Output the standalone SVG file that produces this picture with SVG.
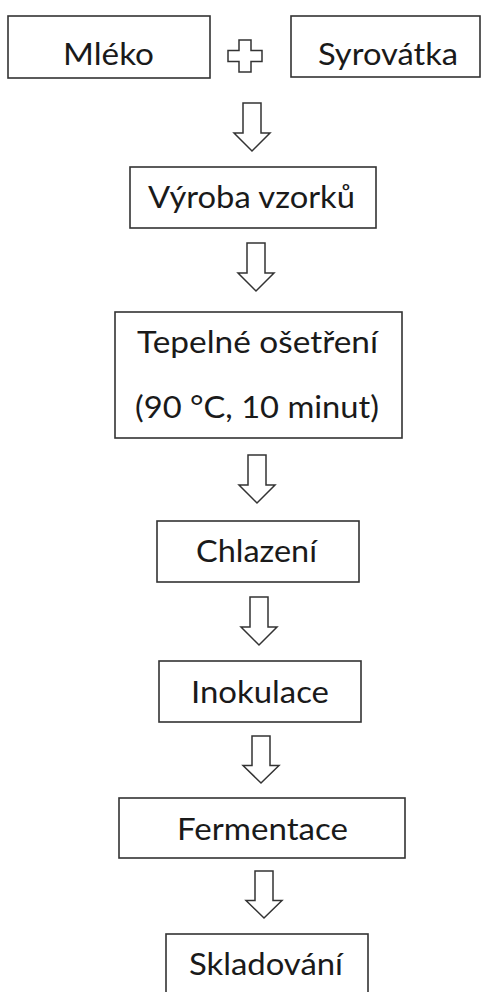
<svg xmlns="http://www.w3.org/2000/svg" width="484" height="992" viewBox="0 0 484 992">
  <style>
    .box { fill: #ffffff; stroke: #333333; stroke-width: 1.6; }
    .lbl { font-family: "Lato", "Carlito", "Open Sans", sans-serif; font-size: 31px; fill: #1a1a1a; text-anchor: middle; }
    .arr { fill: #ffffff; stroke: #333333; stroke-width: 1.5; stroke-linejoin: miter; }
  </style>
  <defs>
    <path id="blockArrow" d="M-9,0 H9 V30 H18 L0,48 L-18,30 H-9 Z"/>
  </defs>
  <rect width="484" height="992" fill="#ffffff"/>

  <g id="n-mleko">
    <rect class="box" x="8" y="16" width="202" height="62"/>
    <text class="lbl" x="108.5" y="65" textLength="91" lengthAdjust="spacingAndGlyphs">Mléko</text>
  </g>
  <g id="n-plus">
    <path class="arr" transform="translate(245,56)" d="M-6,-16 H6 V-5.5 H17 V5.5 H6 V16 H-6 V5.5 H-17 V-5.5 H-6 Z"/>
  </g>
  <g id="n-syrovatka">
    <rect class="box" x="291" y="16" width="189" height="61"/>
    <text class="lbl" x="388" y="65" textLength="140" lengthAdjust="spacingAndGlyphs">Syrovátka</text>
  </g>
  <g id="n-vyroba">
    <rect class="box" x="130" y="167" width="246" height="61"/>
    <text class="lbl" x="251.5" y="208" textLength="207" lengthAdjust="spacingAndGlyphs">Výroba vzorků</text>
  </g>
  <g id="n-tepelne">
    <rect class="box" x="115" y="312" width="287" height="126"/>
    <text class="lbl" x="257.5" y="353" textLength="241" lengthAdjust="spacingAndGlyphs">Tepelné ošetření</text>
    <text class="lbl" x="257" y="418" textLength="244" lengthAdjust="spacingAndGlyphs">(90 °C, 10 minut)</text>
  </g>
  <g id="n-chlazeni">
    <rect class="box" x="157" y="521" width="202" height="61"/>
    <text class="lbl" x="256.5" y="562" textLength="121" lengthAdjust="spacingAndGlyphs">Chlazení</text>
  </g>
  <g id="n-inokulace">
    <rect class="box" x="159" y="661" width="202" height="61"/>
    <text class="lbl" x="260" y="703" textLength="138" lengthAdjust="spacingAndGlyphs">Inokulace</text>
  </g>
  <g id="n-fermentace">
    <rect class="box" x="119" y="798" width="286" height="60"/>
    <text class="lbl" x="262.5" y="840" textLength="171" lengthAdjust="spacingAndGlyphs">Fermentace</text>
  </g>
  <g id="n-skladovani">
    <rect class="box" x="166" y="934" width="202" height="70"/>
    <text class="lbl" x="266" y="975" textLength="154" lengthAdjust="spacingAndGlyphs">Skladování</text>
  </g>

  <g id="connectors">
    <use href="#blockArrow" class="arr" transform="translate(252,103)"/>
    <use href="#blockArrow" class="arr" transform="translate(256,243)"/>
    <use href="#blockArrow" class="arr" transform="translate(257,455)"/>
    <use href="#blockArrow" class="arr" transform="translate(259,597)"/>
    <use href="#blockArrow" class="arr" transform="translate(261,736) scale(1,0.98)"/>
    <use href="#blockArrow" class="arr" transform="translate(264,871) scale(1,0.98)"/>
  </g>
</svg>
